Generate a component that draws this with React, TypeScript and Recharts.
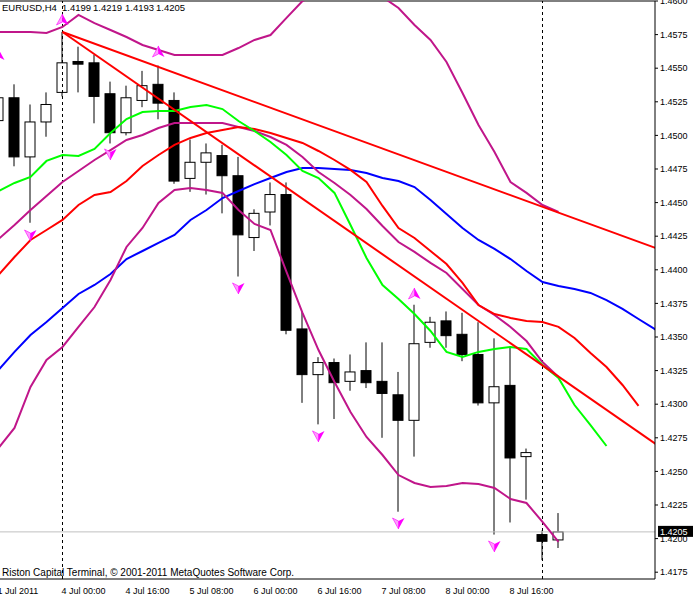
import React from 'react'
import {
  ComposedChart,
  Bar,
  Line,
  Scatter,
  XAxis,
  YAxis,
  ReferenceLine
} from 'recharts'

// bar index: 0 = 4 Jul 00:00, H4 bars, 30 = 11 Jul 00:00
const firstIdx = -4

const open = [1.4511, 1.4528, 1.4484, 1.4510, 1.4532, 1.4555, 1.4554, 1.4531, 1.4502, 1.4526, 1.4538, 1.4526, 1.4468, 1.4480, 1.4485, 1.4470, 1.4424, 1.4443, 1.4456, 1.4356, 1.4322, 1.4331, 1.4317, 1.4325, 1.4317, 1.4307, 1.4288, 1.4346, 1.4362, 1.4352, 1.4337, 1.4301, 1.4314, 1.4261, 1.4203, 1.4199]
const high = [1.4534, 1.4538, 1.4523, 1.4532, 1.4577, 1.4566, 1.4560, 1.4540, 1.4537, 1.4548, 1.4552, 1.4532, 1.4497, 1.4494, 1.4493, 1.4484, 1.4445, 1.4465, 1.4465, 1.4369, 1.4335, 1.4334, 1.4337, 1.4346, 1.4346, 1.4324, 1.4374, 1.4365, 1.4369, 1.4368, 1.4361, 1.4349, 1.4343, 1.4267, 1.4206, 1.4219]
const low = [1.4504, 1.4477, 1.4435, 1.4499, 1.4529, 1.4532, 1.4509, 1.4494, 1.4500, 1.4521, 1.4512, 1.4464, 1.4458, 1.4456, 1.4442, 1.4395, 1.4414, 1.4433, 1.4352, 1.4301, 1.4285, 1.4289, 1.4310, 1.4312, 1.4275, 1.4220, 1.4261, 1.4342, 1.4342, 1.4332, 1.4299, 1.4203, 1.4212, 1.4229, 1.4184, 1.4193]
const close = [1.4528, 1.4484, 1.4510, 1.4523, 1.4554, 1.4553, 1.4529, 1.4502, 1.4528, 1.4537, 1.4524, 1.4466, 1.4480, 1.4487, 1.4470, 1.4426, 1.4442, 1.4456, 1.4355, 1.4322, 1.4331, 1.4316, 1.4324, 1.4316, 1.4308, 1.4288, 1.4345, 1.4361, 1.4351, 1.4337, 1.4301, 1.4313, 1.4260, 1.4264, 1.4198, 1.4205]

// bollinger bands (from bar -4)
const bbUpper = [1.45769, 1.45769, 1.45769, 1.45762, 1.45807, 1.45896, 1.45836, 1.45784, 1.45732, 1.45673, 1.45635, 1.45598, 1.45598, 1.45598, 1.45598, 1.45650, 1.45710, 1.45747, 1.45874, 1.46000, 1.46052, 1.46126, 1.46171, 1.46149, 1.46030, 1.45948, 1.45821, 1.45710, 1.45546, 1.45316, 1.45077, 1.44877, 1.44653, 1.44572, 1.44482, 1.44430]
const bbMid = [1.44229, 1.44333, 1.44445, 1.44549, 1.44653, 1.44735, 1.44817, 1.44891, 1.44966, 1.45003, 1.45055, 1.45092, 1.45092, 1.45092, 1.45092, 1.45063, 1.45033, 1.44988, 1.44929, 1.44839, 1.44728, 1.44646, 1.44557, 1.44452, 1.44326, 1.44207, 1.44133, 1.44051, 1.43976, 1.43857, 1.43738, 1.43664, 1.43575, 1.43470, 1.43314, 1.43203]
const bbLower = [1.42674, 1.42823, 1.43128, 1.43329, 1.43426, 1.43575, 1.43723, 1.43924, 1.44170, 1.44311, 1.44497, 1.44594, 1.44609, 1.44594, 1.44572, 1.44445, 1.44341, 1.44296, 1.43984, 1.43679, 1.43403, 1.43165, 1.42942, 1.42756, 1.42622, 1.42473, 1.42414, 1.42384, 1.42392, 1.42414, 1.42406, 1.42377, 1.42295, 1.42265, 1.42124, 1.41975]

// shifted moving averages (from bar -4)
const maGreen = [1.44586, 1.44646, 1.44691, 1.44810, 1.44854, 1.44847, 1.44899, 1.45018, 1.45122, 1.45174, 1.45182, 1.45182, 1.45211, 1.45226, 1.45196, 1.45107, 1.45033, 1.44951, 1.44854, 1.44735, 1.44683, 1.44572, 1.44333, 1.44088, 1.43887, 1.43783, 1.43671, 1.43545, 1.43389, 1.43351, 1.43389, 1.43411, 1.43426, 1.43411, 1.43292, 1.43195, 1.42994, 1.42845, 1.42689]
const maRed = [1.43961, 1.44095, 1.44222, 1.44296, 1.44371, 1.44482, 1.44557, 1.44579, 1.44661, 1.44772, 1.44854, 1.44929, 1.44981, 1.45018, 1.45040, 1.45063, 1.45048, 1.45018, 1.44981, 1.44944, 1.44884, 1.44817, 1.44743, 1.44653, 1.44475, 1.44311, 1.44237, 1.44140, 1.44043, 1.43902, 1.43738, 1.43671, 1.43642, 1.43619, 1.43612, 1.43575, 1.43493, 1.43381, 1.43277, 1.43143, 1.42987]
const maBlue = [1.43255, 1.43389, 1.43515, 1.43612, 1.43716, 1.43820, 1.43887, 1.43969, 1.44080, 1.44140, 1.44200, 1.44259, 1.44371, 1.44445, 1.44534, 1.44586, 1.44638, 1.44683, 1.44728, 1.44758, 1.44758, 1.44750, 1.44743, 1.44720, 1.44683, 1.44661, 1.44616, 1.44519, 1.44415, 1.44311, 1.44222, 1.44155, 1.44080, 1.43991, 1.43909, 1.43880, 1.43857, 1.43828, 1.43775, 1.43709, 1.43634, 1.43560, 1.43485]

// trend lines drawn from the 4 Jul 00:00 high
const trendUpper = [{ i: 0, t: 1.45769 }, { i: 38, t: 1.44122 }]
const trendLower = [{ i: 0, t: 1.45769 }, { i: 38, t: 1.42627 }]

// fractal arrows
const fractalsUp = [{ i: -4, p: 1.45598 }, { i: 0, p: 1.45859 }, { i: 6, p: 1.45621 }, { i: 22, p: 1.43820 }]
const fractalsDown = [{ i: -2, p: 1.44259 }, { i: 3, p: 1.44862 }, { i: 11, p: 1.43865 }, { i: 16, p: 1.42764 }, { i: 21, p: 1.42116 }, { i: 27, p: 1.41945 }]

const xTicks = [-4, 0, 4, 8, 12, 16, 20, 24, 28]
const xTickLabels = ['1 Jul 2011', '4 Jul 00:00', '4 Jul 16:00', '5 Jul 08:00', '6 Jul 00:00', '6 Jul 16:00', '7 Jul 08:00', '8 Jul 00:00', '8 Jul 16:00']
const yTicks = [1.4175, 1.42, 1.4225, 1.425, 1.4275, 1.43, 1.4325, 1.435, 1.4375, 1.44, 1.4425, 1.445, 1.4475, 1.45, 1.4525, 1.455, 1.4575, 1.46]
const bid = 1.4205
const headerQuote = ['1.4199', '1.4219', '1.4193', '1.4205']

const FONT = '"Liberation Sans", Arial, sans-serif'

const rows = maBlue.map((b, k) => {
  const hasBar = k < open.length
  return {
    i: firstIdx + k,
    o: hasBar ? open[k] : undefined,
    h: hasBar ? high[k] : undefined,
    l: hasBar ? low[k] : undefined,
    c: hasBar ? close[k] : undefined,
    range: hasBar ? [low[k], high[k]] : undefined,
    up: k < bbUpper.length ? bbUpper[k] : undefined,
    mid: k < bbMid.length ? bbMid[k] : undefined,
    lo: k < bbLower.length ? bbLower[k] : undefined,
    green: k < maGreen.length ? maGreen[k] : undefined,
    red: k < maRed.length ? maRed[k] : undefined,
    blue: b
  }
})

const Candle = (props: any) => {
  const { x, y, width, height, payload } = props
  if (!payload || payload.o == null || !isFinite(y)) return <g />
  const { o, h, l, c } = payload
  const top = Math.min(y, y + height)
  const bot = Math.max(y, y + height)
  const k = (bot - top) / (h - l)
  const yo = top + (h - o) * k
  const yc = top + (h - c) * k
  const cx = x + width / 2
  const bull = c >= o
  const bTop = Math.min(yo, yc)
  const bH = Math.max(Math.abs(yc - yo), 1)
  return (
    <g>
      <line x1={cx} x2={cx} y1={top} y2={bot} stroke="#000" strokeWidth={1} />
      <rect x={cx - 5} y={bTop} width={10} height={bH} fill={bull ? '#fff' : '#000'} stroke="#000" strokeWidth={1} />
    </g>
  )
}

const ArrowUp = (props: any) => {
  const { cx, cy } = props
  return (
    <g>
      <polygon points={`${cx},${cy - 6} ${cx - 6},${cy + 5} ${cx},${cy + 2}`} fill="#ff9cff" stroke="#ff00ff" strokeWidth={0.6} />
      <polygon points={`${cx},${cy - 6} ${cx},${cy + 2} ${cx + 6},${cy + 5}`} fill="#ff00ff" />
    </g>
  )
}

const ArrowDown = (props: any) => {
  const { cx, cy } = props
  return (
    <g>
      <polygon points={`${cx},${cy + 6} ${cx - 6},${cy - 5} ${cx},${cy - 2}`} fill="#ff9cff" stroke="#ff00ff" strokeWidth={0.6} />
      <polygon points={`${cx},${cy + 6} ${cx},${cy - 2} ${cx + 6},${cy - 5}`} fill="#ff00ff" />
    </g>
  )
}

const TimeTick = (props: any) => {
  const { x, payload } = props
  const idx = xTicks.indexOf(payload.value)
  return (
    <text x={x - 1} y={594} fontSize={9} fontFamily={FONT} fill="#000" textAnchor="start">
      {xTickLabels[idx]}
    </text>
  )
}

const BidLabel = (props: any) => {
  const vb = props.viewBox || {}
  const x0 = (vb.x || 0) + (vb.width || 0)
  const y0 = vb.y || 0
  return (
    <g>
      <rect x={x0 + 3} y={y0 - 6} width={35} height={11} fill="#000" />
      <text x={x0 + 5} y={y0 + 3.5} fontSize={9} fontFamily={FONT} fill="#fff">{bid.toFixed(4)}</text>
    </g>
  )
}

export default function App() {
  return (
    <div style={{ position: 'absolute', left: 0, top: 0, width: 695, height: 598, background: '#fff' }}>
      <ComposedChart width={695} height={598} data={rows} margin={{ top: 1, right: 0, bottom: 0, left: 0 }}>
        <XAxis
          dataKey="i"
          type="number"
          domain={[-3.90625, 37.03125]}
          allowDataOverflow
          ticks={xTicks}
          interval={0}
          height={19}
          tick={<TimeTick />}
          tickLine={false}
          axisLine={{ stroke: '#000' }}
        />
        <YAxis
          orientation="right"
          width={40}
          domain={[1.416994, 1.46]}
          allowDataOverflow
          ticks={yTicks}
          interval={0}
          tickFormatter={(v: number) => v.toFixed(4)}
          tick={{ fontSize: 9, fill: '#000', fontFamily: FONT }}
          tickSize={3}
          tickMargin={2}
          tickLine={{ stroke: '#000' }}
          axisLine={{ stroke: '#000' }}
        />

        <ReferenceLine y={1.46} stroke="#000" />
        <ReferenceLine y={bid} stroke="#c0c0c0" label={<BidLabel />} />
        <ReferenceLine x={0} stroke="#000" strokeDasharray="3 3" />
        <ReferenceLine x={30} stroke="#000" strokeDasharray="3 3" />

        <Line dataKey="blue" stroke="#0000ff" strokeWidth={2} dot={false} isAnimationActive={false} />
        <Line dataKey="up" stroke="#c0168a" strokeWidth={2} dot={false} isAnimationActive={false} />
        <Line dataKey="mid" stroke="#c0168a" strokeWidth={2} dot={false} isAnimationActive={false} />
        <Line dataKey="lo" stroke="#c0168a" strokeWidth={2} dot={false} isAnimationActive={false} />
        <Line dataKey="red" stroke="#ff0000" strokeWidth={2} dot={false} isAnimationActive={false} />
        <Line dataKey="green" stroke="#00ff00" strokeWidth={2} dot={false} isAnimationActive={false} />
        <Line data={trendUpper} dataKey="t" stroke="#ff0000" strokeWidth={2} dot={false} isAnimationActive={false} />
        <Line data={trendLower} dataKey="t" stroke="#ff0000" strokeWidth={2} dot={false} isAnimationActive={false} />

        <Bar dataKey="range" barSize={11} shape={(p: any) => <Candle {...p} />} isAnimationActive={false} />

        <Scatter data={fractalsUp} dataKey="p" shape={(p: any) => <ArrowUp {...p} />} isAnimationActive={false} />
        <Scatter data={fractalsDown} dataKey="p" shape={(p: any) => <ArrowDown {...p} />} isAnimationActive={false} />
      </ComposedChart>

      <svg width={695} height={598} style={{ position: 'absolute', left: 0, top: 0, pointerEvents: 'none' }}>
        <text y={11} fontSize={9.5} fontFamily={FONT} fill="#000">
          <tspan x={2}>EURUSD,H4</tspan>
          <tspan x={62}>{headerQuote[0]}</tspan>
          <tspan x={93}>{headerQuote[1]}</tspan>
          <tspan x={125}>{headerQuote[2]}</tspan>
          <tspan x={156}>{headerQuote[3]}</tspan>
        </text>
        <text x={2} y={576} fontSize={10} fontFamily={FONT} fill="#000">
          Riston Capital Terminal, © 2001-2011 MetaQuotes Software Corp.
        </text>
      </svg>
    </div>
  )
}
